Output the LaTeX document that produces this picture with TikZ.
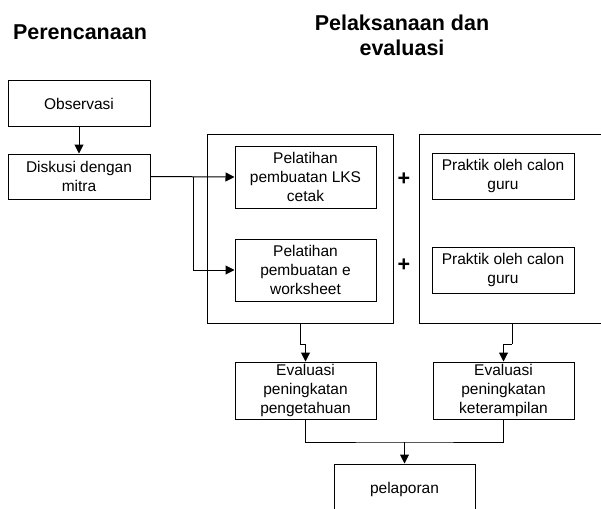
\documentclass[tikz,border=0pt]{standalone}
\usepackage{fontspec}
\setmainfont{Liberation Sans}
\usetikzlibrary{arrows.meta}

\tikzset{
	kotak/.style={draw, line width=1pt, align=center, inner sep=0pt,
		font=\fontsize{15.5}{19.3}\selectfont},
	judul/.style={align=center, font=\fontsize{21.5}{25}\selectfont\bfseries},
	panah/.style={line width=1pt, -{Triangle[length=9pt,width=9pt]}},
	garis/.style={line width=1pt}
}

\begin{document}
\begin{tikzpicture}[x=1pt,y=-1pt]
	\useasboundingbox (0,0) rectangle (601,508);
	\clip (0,0) rectangle (601,508);
	\node[judul] (t1) at (80,32){Perencanaan};
	\node[judul] (t2) at (402,35){Pelaksanaan dan\\evaluasi};
	\node[kotak, minimum width=142, minimum height=45] (obs) at (79,103.5){Observasi};
	\node[kotak, minimum width=142, minimum height=45] (disk) at (79,176.5){Diskusi dengan\\mitra};
	\node[kotak, minimum width=186, minimum height=189] (grupA) at (300,228.5){};
	\node[kotak, minimum width=186, minimum height=189] (grupB) at (512,228.5){};
	\node[kotak, minimum width=141, minimum height=62] (lat1) at (305.5,177){Pelatihan\\pembuatan LKS\\cetak};
	\node[kotak, minimum width=141, minimum height=62] (lat2) at (305.5,270){Pelatihan\\pembuatan e\\worksheet};
	\node[kotak, minimum width=142, minimum height=46] (prak1) at (503,176){Praktik oleh calon\\guru};
	\node[kotak, minimum width=142, minimum height=46] (prak2) at (503,270){Praktik oleh calon\\guru};
	\node[judul] (plus1) at (404,179){+};
	\node[judul] (plus2) at (404,265){+};
	\node[kotak, minimum width=141, minimum height=57] (eval1) at (305.5,390.5){Evaluasi\\peningkatan\\pengetahuan};
	\node[kotak, minimum width=141, minimum height=57] (eval2) at (503.5,390.5){Evaluasi\\peningkatan\\keterampilan};
	\node[kotak, minimum width=141, minimum height=50] (lapor) at (404.5,489){pelaporan};
	\coordinate (cabang) at (193,177);
	\coordinate (tekukA) at (300,344);
	\coordinate (tekukB) at (512,344);
	\coordinate (gabung) at (404.5,442);
	\draw [panah] (obs) -- (disk);
	\draw [panah] (disk.east) -- (lat1.west);
	\draw [panah] (cabang) |- (lat2.west);
	\draw [garis] (grupA.south) -- (tekukA);
	\draw [panah] (tekukA) -| (eval1.north);
	\draw [garis] (grupB.south) -- (tekukB);
	\draw [panah] (tekukB) -| (eval2.north);
	\draw [garis] (eval1.south) |- (gabung) -| (eval2.south);
	\draw [panah] (gabung) -- (lapor.north);
\end{tikzpicture}
\end{document}
